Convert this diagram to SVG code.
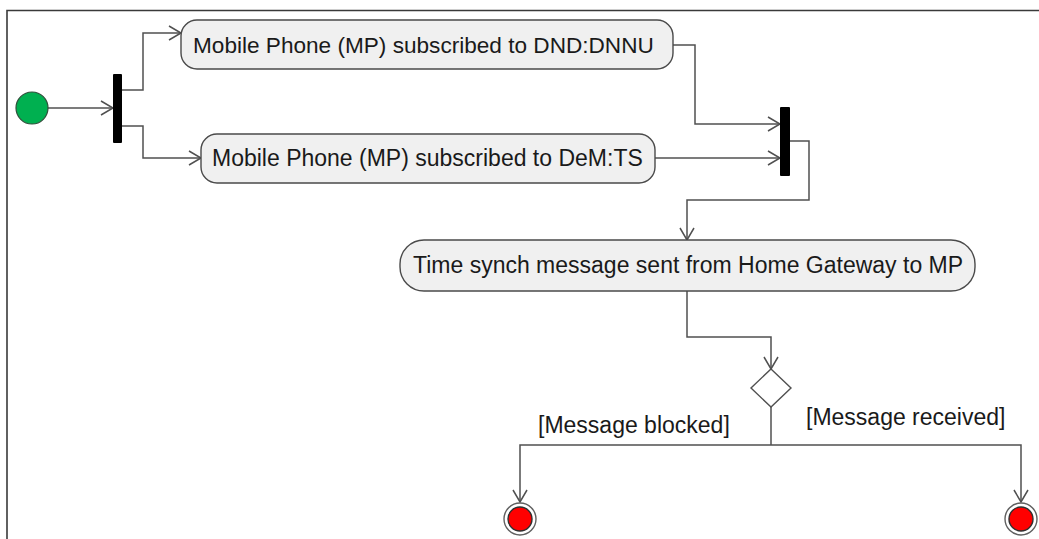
<svg xmlns="http://www.w3.org/2000/svg" width="1039" height="539" viewBox="0 0 1039 539">
  <style>
    .frame { fill: none; stroke: #3a3a3a; stroke-width: 1.6; }
    .action { fill: #f0f0f0; stroke: #4a4a4a; stroke-width: 1.4; }
    .label { font-family: "Liberation Sans", Arial, sans-serif; font-size: 23px; fill: #1a1a1a; }
    .flow { fill: none; stroke: #505050; stroke-width: 1.5; marker-end: url(#open); }
    .plain { fill: none; stroke: #505050; stroke-width: 1.5; }
    .bar { fill: #000000; }
  </style>
  <defs>
    <marker id="open" markerWidth="16" markerHeight="16" refX="13" refY="8" orient="auto" markerUnits="userSpaceOnUse">
      <path d="M1,1 L13,8 L1,15" fill="none" stroke="#505050" stroke-width="1.5"/>
    </marker>
  </defs>

  <!-- diagram frame (top and left edges) -->
  <path class="frame" d="M7,539 L7,10.5 L1039,10.5"/>

  <!-- control flows -->
  <g id="connectors">
    <path class="flow" d="M48,108 L113,108"/>
    <path class="flow" d="M122,90 L143,90 L143,33 L181,33"/>
    <path class="flow" d="M122,126 L143,126 L143,158 L201,158"/>
    <path class="flow" d="M673,45 L695,45 L695,124 L780,124"/>
    <path class="flow" d="M655,158 L780,158"/>
    <path class="flow" d="M790,141 L809,141 L809,200 L687,200 L687,240"/>
    <path class="flow" d="M687,291 L687,337 L771,337 L771,369"/>
    <path class="plain" d="M771,407 L771,445"/>
    <path class="flow" d="M771,445 L520,445 L520,502"/>
    <path class="flow" d="M771,445 L1021,445 L1021,502"/>
    <text class="label" x="538" y="433">[Message blocked]</text>
    <text class="label" x="806" y="425">[Message received]</text>
  </g>

  <g id="start">
    <circle cx="32" cy="108" r="16" fill="#00b050" stroke="#2f4f3a" stroke-width="1.2"/>
  </g>

  <g id="fork">
    <rect class="bar" x="113" y="74" width="9" height="69" rx="1"/>
  </g>

  <g id="subscribed-dnd">
    <rect class="action" x="181" y="20" width="492" height="49" rx="16"/>
    <text class="label" x="193" y="53" style="font-size:22.6px">Mobile Phone (MP) subscribed to DND:DNNU</text>
  </g>

  <g id="subscribed-dem">
    <rect class="action" x="201" y="134" width="454" height="49" rx="16"/>
    <text class="label" x="212" y="166">Mobile Phone (MP) subscribed to DeM:TS</text>
  </g>

  <g id="join">
    <rect class="bar" x="780" y="107" width="10" height="69" rx="1"/>
  </g>

  <g id="time-synch">
    <rect class="action" x="400" y="240" width="575" height="51" rx="24"/>
    <text class="label" x="413" y="273">Time synch message sent from Home Gateway to MP</text>
  </g>

  <g id="decision">
    <path d="M771,369 L791,388 L771,407 L751,388 Z" fill="#ffffff" stroke="#505050" stroke-width="1.4"/>
  </g>

  <g id="end-blocked">
    <circle cx="520" cy="519" r="16" fill="#ffffff" stroke="#606060" stroke-width="1.4"/>
    <circle cx="520" cy="519" r="12" fill="#ff0000" stroke="#303030" stroke-width="1.4"/>
  </g>

  <g id="end-received">
    <circle cx="1021" cy="519" r="16" fill="#ffffff" stroke="#606060" stroke-width="1.4"/>
    <circle cx="1021" cy="519" r="12" fill="#ff0000" stroke="#303030" stroke-width="1.4"/>
  </g>
</svg>
